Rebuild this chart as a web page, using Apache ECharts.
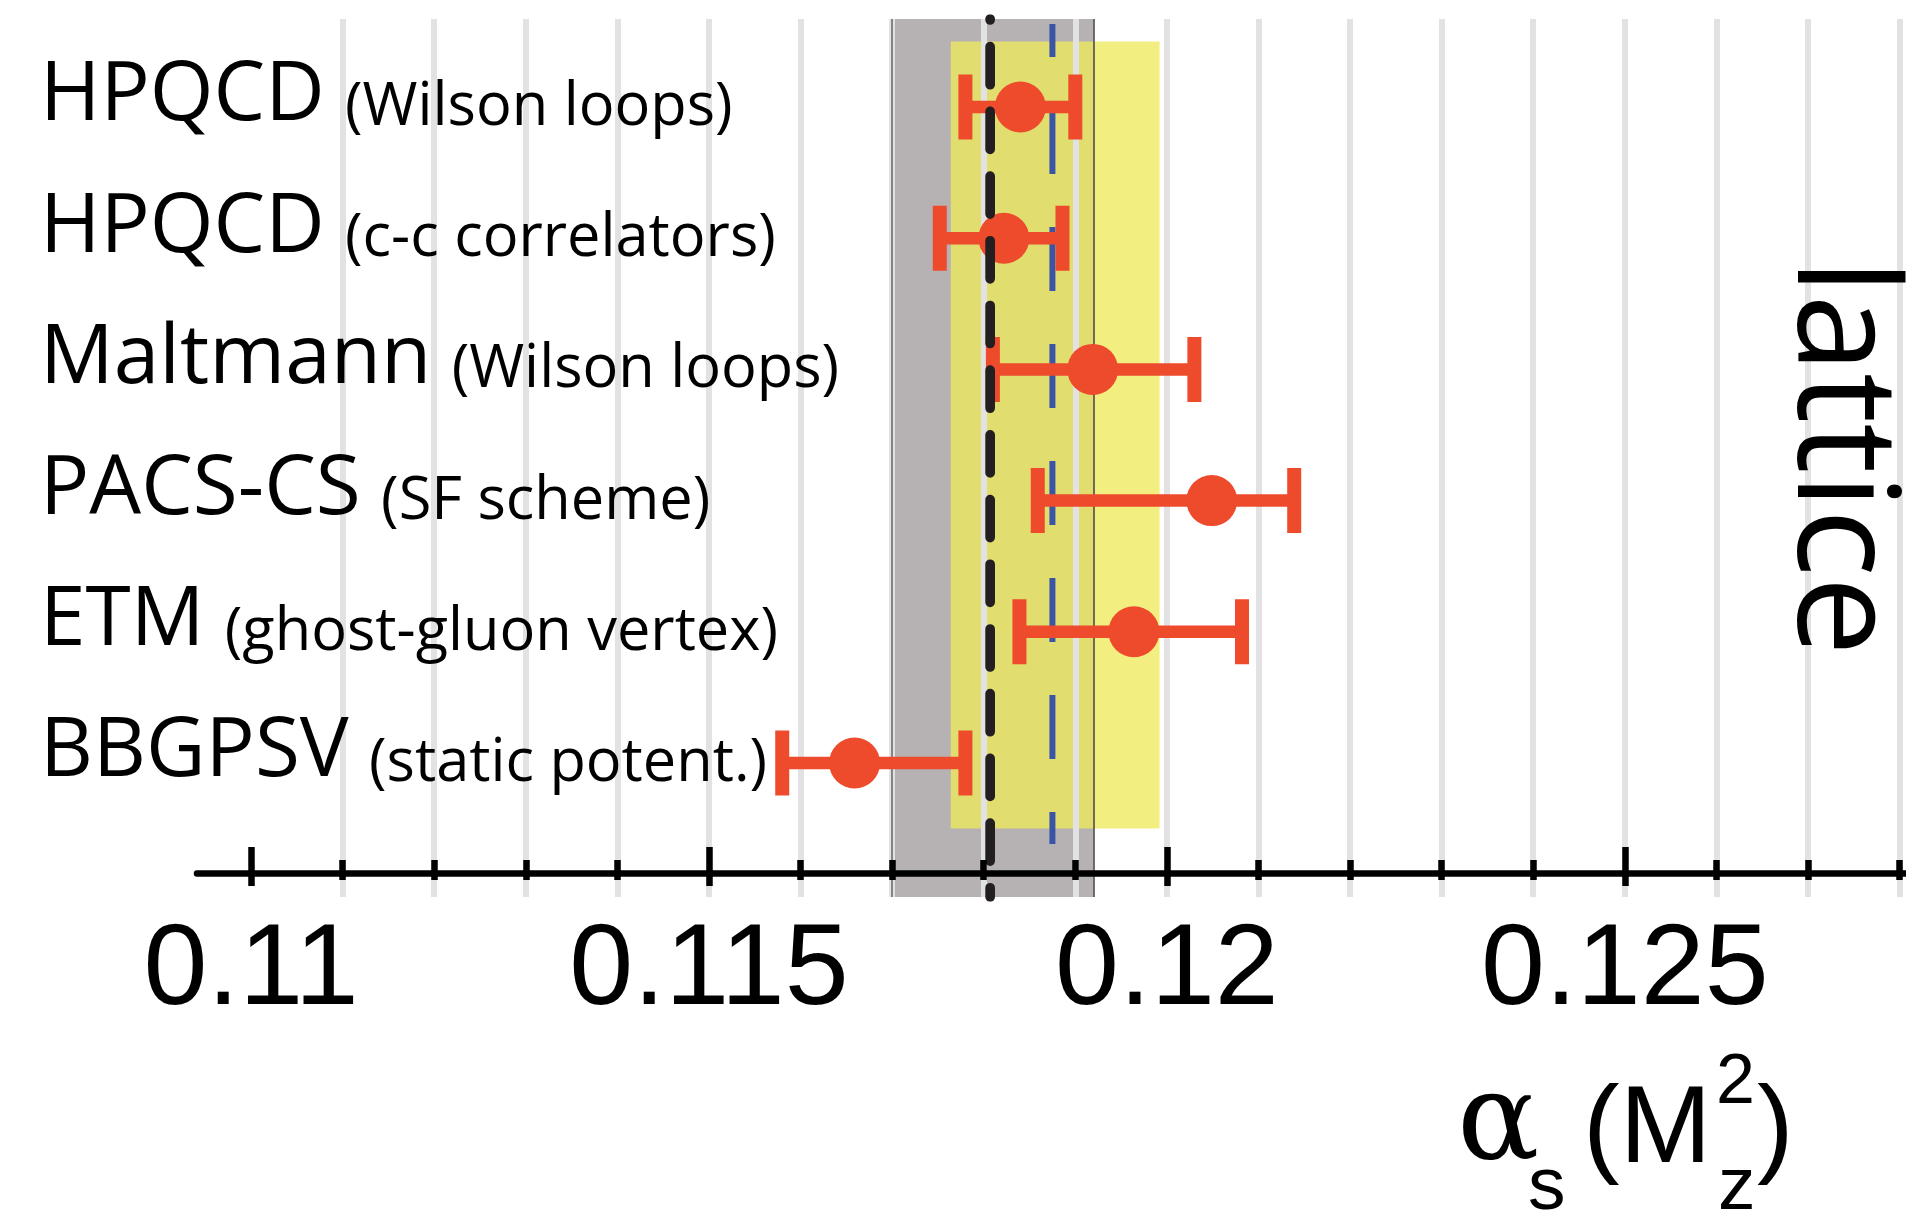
<!DOCTYPE html>
<html>
<head>
<meta charset="utf-8">
<script src="https://cdn.jsdelivr.net/npm/echarts@6/dist/echarts.min.js"></script>
<style>
html,body{margin:0;padding:0;background:#fff;}
#chart{width:1906px;height:1214px;}
</style>
</head>
<body>
<div id="chart"></div>
<script>
// ---------------- data ----------------
const experiments = ['HPQCD', 'HPQCD', 'Maltmann', 'PACS-CS', 'ETM', 'BBGPSV'];
const methods = ['(Wilson loops)', '(c-c correlators)', '(Wilson loops)', '(SF scheme)', '(ghost-gluon vertex)', '(static potent.)'];
const centralValues = [0.11840, 0.11822, 0.11919, 0.12049, 0.11964, 0.11659];
const lowerValues   = [0.11780, 0.11752, 0.11810, 0.11859, 0.11839, 0.11580];
const upperValues   = [0.11900, 0.11886, 0.12030, 0.12139, 0.12082, 0.11780];
const worldAverage = 0.11807;
const worldBand = [0.11700, 0.11920];
const latticeAverage = 0.11875;
const latticeBand = [0.11764, 0.11992];
const minorTicks = [0.110, 0.111, 0.112, 0.113, 0.114, 0.115, 0.116, 0.117, 0.118, 0.119,
                    0.120, 0.121, 0.122, 0.123, 0.124, 0.125, 0.126, 0.127, 0.128];
const majorTicks = [0.110, 0.115, 0.120, 0.125];
const tickLabels = ['0.11', '0.115', '0.12', '0.125'];
const gridValues = [0.111, 0.112, 0.113, 0.114, 0.115, 0.116, 0.117, 0.118, 0.119,
                    0.120, 0.121, 0.122, 0.123, 0.124, 0.125, 0.126, 0.127, 0.128];

// ---------------- layout ----------------
const xMin = 0.10941, xMax = 0.12807;
const yMin = 0.3293, yMax = 7.0213;
const rows = experiments.map((_, i) => i + 1);
const latticeRows = [0.5, 6.5];
const blueExtent = [0.367, 6.617];
const RED = '#ee4a2c';

const chart = echarts.init(document.getElementById('chart'), null, {renderer: 'canvas'});

const tickStyle = {color: '#000', width: 6.5};
const xBase = {
  type: 'value', min: xMin, max: xMax, position: 'bottom', offset: -24, z: 8,
  splitLine: {show: false},
  axisLine: {show: false, onZero: false}
};

const option = {
  animation: false,
  backgroundColor: '#fff',
  grid: {left: 197, right: 0, top: 19, bottom: 317, containLabel: false},
  xAxis: [
    Object.assign({}, xBase, {
      axisLine: {show: true, onZero: false, lineStyle: {color: '#000', width: 6.5}},
      axisTick: {show: true, inside: true, length: 13, customValues: minorTicks, lineStyle: tickStyle},
      axisLabel: {
        show: true, customValues: majorTicks,
        formatter: v => tickLabels[majorTicks.findIndex(t => Math.abs(t - v) < 1e-9)],
        fontFamily: 'Liberation Sans', fontSize: 115, lineHeight: 115, color: '#000', margin: 42
      }
    }),
    Object.assign({}, xBase, {
      axisTick: {show: true, inside: false, length: 7, customValues: minorTicks, lineStyle: tickStyle},
      axisLabel: {show: false}
    }),
    Object.assign({}, xBase, {
      axisTick: {show: true, inside: true, length: 26, customValues: majorTicks, lineStyle: tickStyle},
      axisLabel: {show: false}
    }),
    Object.assign({}, xBase, {
      axisTick: {show: true, inside: false, length: 13, customValues: majorTicks, lineStyle: tickStyle},
      axisLabel: {show: false}
    })
  ],
  yAxis: {
    type: 'value', inverse: true, min: yMin, max: yMax, z: 8,
    axisLine: {show: false}, axisTick: {show: false}, splitLine: {show: false},
    axisLabel: {
      show: true, customValues: rows, align: 'left', margin: 157,
      padding: [0, 0, 56, 0],
      fontFamily: 'Open Sans', fontSize: 59, color: '#000',
      formatter: v => '{a|' + experiments[v - 1] + '} {b|' + methods[v - 1] + '}',
      rich: {
        a: {fontFamily: 'Open Sans', fontSize: 82, lineHeight: 100, color: '#000', verticalAlign: 'bottom'},
        b: {fontFamily: 'Open Sans', fontSize: 59.5, lineHeight: 118, color: '#000', verticalAlign: 'bottom', padding: [0, 0, 0, 5]}
      }
    }
  },
  graphic: [
    {type: 'text', x: 1838, y: 259, rotation: -Math.PI / 2, silent: true, z: 10,
     style: {text: 'lattice', fontFamily: 'Open Sans', fontSize: 141, fill: '#000', align: 'left', verticalAlign: 'middle'}},
    {type: 'text', x: 1457, y: 1170 - 0.35 * 122, silent: true, z: 10,
     style: {text: 'α', fontFamily: 'DejaVu Serif', fontSize: 122, fill: '#000', align: 'left', verticalAlign: 'middle'}},
    {type: 'text', x: 1528, y: 1214 - 0.3465 * 75, silent: true, z: 10,
     style: {text: 's', fontFamily: 'Liberation Sans', fontSize: 75, fill: '#000', align: 'left', verticalAlign: 'middle'}},
    {type: 'text', x: 1583, y: 1170 - 0.3465 * 110, silent: true, z: 10,
     style: {text: '(M', fontFamily: 'Liberation Sans', fontSize: 110, fill: '#000', align: 'left', verticalAlign: 'middle'}},
    {type: 'text', x: 1716, y: 1108 - 0.3465 * 70, silent: true, z: 10,
     style: {text: '2', fontFamily: 'Liberation Sans', fontSize: 70, fill: '#000', align: 'left', verticalAlign: 'middle'}},
    {type: 'text', x: 1718, y: 1214 - 0.3465 * 75, silent: true, z: 10,
     style: {text: 'z', fontFamily: 'Liberation Sans', fontSize: 75, fill: '#000', align: 'left', verticalAlign: 'middle'}},
    {type: 'text', x: 1757, y: 1170 - 0.3465 * 110, silent: true, z: 10,
     style: {text: ')', fontFamily: 'Liberation Sans', fontSize: 110, fill: '#000', align: 'left', verticalAlign: 'middle'}}
  ],
  series: [
    {
      name: 'bands', type: 'line', data: [], z: 1, silent: true,
      markArea: {
        silent: true, precision: 6, z: 1,
        data: [
          [{xAxis: worldBand[0], itemStyle: {color: '#b6b2b3'}}, {xAxis: worldBand[1]}],
          [{xAxis: latticeBand[0], yAxis: latticeRows[0], itemStyle: {color: 'rgba(238,234,88,0.76)'}},
           {xAxis: latticeBand[1], yAxis: latticeRows[1]}]
        ]
      }
    },
    {
      name: 'grid', type: 'line', data: [], z: 2, silent: true,
      markLine: {
        silent: true, symbol: 'none', precision: 6, z: 2, label: {show: false},
        lineStyle: {color: '#e2e2e4', width: 6, type: 'solid'},
        data: gridValues.map(v => ({xAxis: v})).concat([
          {xAxis: worldBand[0], lineStyle: {color: '#6f6c6d', width: 1.6, type: 'solid'}},
          {xAxis: worldBand[1], lineStyle: {color: '#4e4b4c', width: 1.6, type: 'solid'}}
        ])
      }
    },
    {
      name: 'lattice average', type: 'line', z: 3, silent: true, showSymbol: false, symbol: 'none',
      data: [[latticeAverage, blueExtent[0]], [latticeAverage, blueExtent[1]]],
      lineStyle: {color: '#3a55a5', width: 6, type: [64, 53], dashOffset: 31, cap: 'butt'}
    },
    {
      name: 'errors', type: 'custom', z: 4, silent: true,
      data: lowerValues.map((lo, i) => [lo, upperValues[i], rows[i]]),
      encode: {x: [0, 1], y: 2},
      renderItem: function (params, api) {
        const p1 = api.coord([api.value(0), api.value(2)]);
        const p2 = api.coord([api.value(1), api.value(2)]);
        const t = 12.5, cw = 14, ch = 65;
        return {
          type: 'group',
          children: [
            {type: 'rect', shape: {x: p1[0], y: p1[1] - t / 2, width: p2[0] - p1[0], height: t}, style: {fill: RED}},
            {type: 'rect', shape: {x: p1[0] - cw / 2, y: p1[1] - ch / 2, width: cw, height: ch}, style: {fill: RED}},
            {type: 'rect', shape: {x: p2[0] - cw / 2, y: p2[1] - ch / 2, width: cw, height: ch}, style: {fill: RED}}
          ]
        };
      }
    },
    {
      name: 'central', type: 'scatter', z: 5, silent: true,
      data: centralValues.map((c, i) => [c, rows[i]]),
      symbol: 'circle', symbolSize: 51,
      itemStyle: {color: RED, opacity: 1}
    },
    {
      name: 'world average', type: 'line', z: 6, silent: true, showSymbol: false, symbol: 'none',
      data: [[worldAverage, yMin], [worldAverage, yMax]],
      lineStyle: {color: '#231f20', width: 9.7, type: [38, 26.7], dashOffset: 37, cap: 'round'}
    }
  ]
};
chart.setOption(option);
</script>
</body>
</html>
